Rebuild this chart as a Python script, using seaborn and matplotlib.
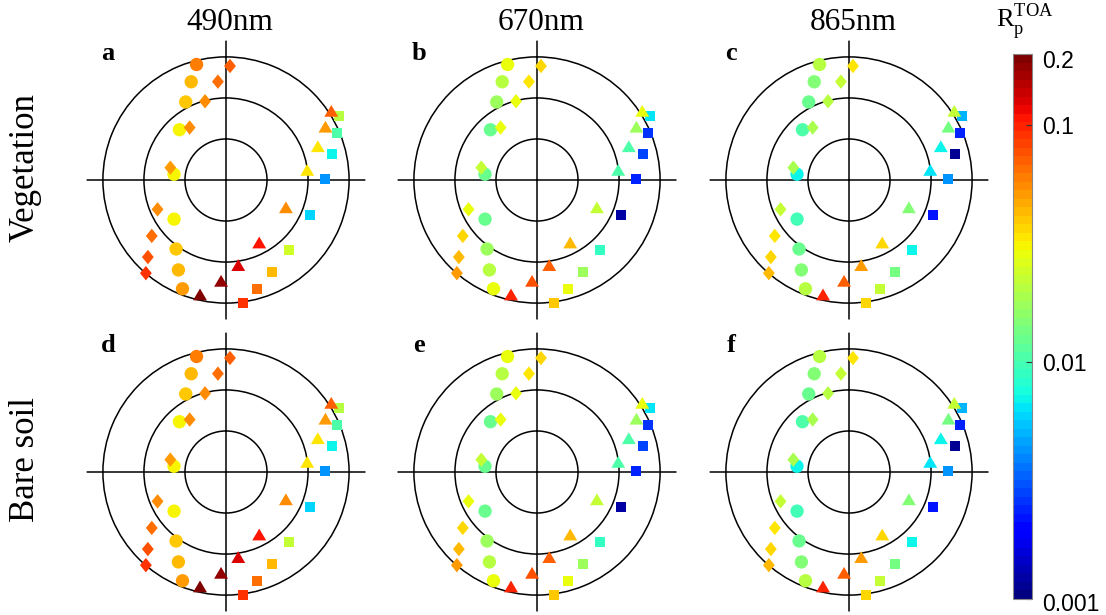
import numpy as np
import pandas as pd
import matplotlib
matplotlib.use("Agg")
import matplotlib.pyplot as plt
import matplotlib.transforms as mtransforms
from matplotlib.colors import LogNorm
from matplotlib.cm import ScalarMappable
from matplotlib.path import Path
import seaborn as sns

# ---- viewing geometry (view zenith angle in deg, relative azimuth in deg) ----
circ_vza = [58.1, 50.8, 42.8, 33.4, 25.5, 31.7, 41.5, 49.6, 57.1]
circ_vaa = [345.7, 340.5, 332.7, 317.2, 276.3, 233.0, 215.9, 207.9, 201.8]
diam_vza = [55.6, 48.1, 39.7, 31.1, 27.8, 36.3, 45.3, 53.5, 59.9]
diam_vaa = [2.0, 355.3, 345.1, 325.3, 282.5, 246.8, 233.0, 225.4, 220.7]
sq_vza = [63.5, 58.6, 53.4, 48.5, 44.4, 45.9, 50.0, 55.3, 60.4]
sq_vaa = [60.5, 67.2, 76.2, 89.4, 112.8, 137.9, 153.2, 164.2, 172.3]
tri_vza = [61.4, 55.0, 47.7, 39.9, 32.1, 34.5, 41.9, 49.2, 57.2]
tri_vaa = [56.7, 61.8, 69.8, 82.9, 114.5, 152.0, 171.8, 182.8, 192.8]

# ---- polarized TOA reflectance, vegetation ----
veg490_circ = [0.062, 0.045, 0.040, 0.030, 0.030, 0.030, 0.040, 0.045, 0.053]
veg490_diam = [0.072, 0.065, 0.055, 0.055, 0.053, 0.055, 0.065, 0.075, 0.090]
veg490_sq = [0.020, 0.0108, 0.007, 0.0041, 0.006, 0.025, 0.045, 0.065, 0.090]
veg490_tri = [0.072, 0.053, 0.035, 0.033, 0.055, 0.110, 0.130, 0.170, 0.185]

veg670_circ = [0.028, 0.020, 0.017, 0.013, 0.013, 0.013, 0.017, 0.020, 0.028]
veg670_diam = [0.038, 0.033, 0.028, 0.028, 0.023, 0.028, 0.038, 0.045, 0.053]
veg670_sq = [0.0064, 0.0027, 0.0029, 0.0023, 0.0012, 0.0093, 0.017, 0.028, 0.040]
veg670_tri = [0.028, 0.017, 0.0108, 0.0108, 0.023, 0.045, 0.069, 0.078, 0.100]

veg865_circ = [0.020, 0.0152, 0.013, 0.0103, 0.007, 0.0097, 0.013, 0.0152, 0.020]
veg865_diam = [0.033, 0.023, 0.020, 0.0185, 0.0185, 0.023, 0.033, 0.038, 0.045]
veg865_sq = [0.0052, 0.0023, 0.0011, 0.0044, 0.0022, 0.007, 0.014, 0.023, 0.036]
veg865_tri = [0.022, 0.014, 0.007, 0.0065, 0.0152, 0.036, 0.053, 0.072, 0.100]

# ---- polarized TOA reflectance, bare soil ----
soil490_circ = [0.062, 0.045, 0.040, 0.030, 0.030, 0.030, 0.040, 0.045, 0.053]
soil490_diam = [0.072, 0.065, 0.055, 0.055, 0.053, 0.055, 0.065, 0.075, 0.090]
soil490_sq = [0.020, 0.0108, 0.007, 0.0041, 0.006, 0.022, 0.045, 0.065, 0.090]
soil490_tri = [0.072, 0.053, 0.035, 0.033, 0.055, 0.110, 0.130, 0.170, 0.185]

soil670_circ = [0.028, 0.020, 0.017, 0.013, 0.013, 0.013, 0.017, 0.020, 0.028]
soil670_diam = [0.038, 0.033, 0.028, 0.028, 0.023, 0.028, 0.038, 0.045, 0.053]
soil670_sq = [0.0064, 0.0027, 0.0029, 0.0023, 0.0012, 0.0093, 0.017, 0.028, 0.040]
soil670_tri = [0.028, 0.017, 0.0108, 0.0108, 0.023, 0.045, 0.069, 0.078, 0.100]

soil865_circ = [0.020, 0.0152, 0.013, 0.0103, 0.007, 0.0097, 0.013, 0.0152, 0.020]
soil865_diam = [0.033, 0.023, 0.020, 0.0185, 0.0185, 0.023, 0.033, 0.038, 0.045]
soil865_sq = [0.0052, 0.0023, 0.0011, 0.0044, 0.0022, 0.007, 0.014, 0.023, 0.036]
soil865_tri = [0.022, 0.014, 0.007, 0.0065, 0.0152, 0.036, 0.053, 0.072, 0.100]

bands = ["490nm", "670nm", "865nm"]
surfaces = ["Vegetation", "Bare soil"]
panel_letters = ["a", "b", "c", "d", "e", "f"]
cbar_ticks = [0.001, 0.01, 0.1, 0.2]
cbar_ticklabels = ["0.001", "0.01", "0.1", "0.2"]
zenith_rings = [20, 40, 60]

panel_values = [
    [veg490_circ, veg490_sq, veg490_diam, veg490_tri],
    [veg670_circ, veg670_sq, veg670_diam, veg670_tri],
    [veg865_circ, veg865_sq, veg865_diam, veg865_tri],
    [soil490_circ, soil490_sq, soil490_diam, soil490_tri],
    [soil670_circ, soil670_sq, soil670_diam, soil670_tri],
    [soil865_circ, soil865_sq, soil865_diam, soil865_tri],
]
shape_names = ["circle", "square", "diamond", "triangle"]
shape_geom = {
    "circle": (circ_vza, circ_vaa),
    "square": (sq_vza, sq_vaa),
    "diamond": (diam_vza, diam_vaa),
    "triangle": (tri_vza, tri_vaa),
}

# ---- styling ----
W, H = 1106, 615
fig = plt.figure(figsize=(W / 100, H / 100), dpi=100)
serif = ["Liberation Serif", "DejaVu Serif"]
sans = ["Liberation Sans", "DejaVu Sans"]

cmap = matplotlib.colormaps["jet"].resampled(64)
norm = LogNorm(vmin=0.001, vmax=0.2)

diamond = Path([(0, 1), (0.82, 0), (0, -1), (-0.82, 0), (0, 1)],
               [Path.MOVETO, Path.LINETO, Path.LINETO, Path.LINETO, Path.CLOSEPOLY])
triangle = Path([(0, 0.85), (1, -0.85), (-1, -0.85), (0, 0.85)],
                [Path.MOVETO, Path.LINETO, Path.LINETO, Path.CLOSEPOLY])
marker_map = {"circle": "o", "square": "s", "diamond": diamond, "triangle": triangle}
size_map = {"circle": 92, "square": 52, "diamond": 108, "triangle": 100}

rmax = 68
centers_x = [226, 537, 849]
centers_y = [180, 472]
radius_px = 139.5

for idx, vals in enumerate(panel_values):
    row, col = divmod(idx, 3)
    cx, cy = centers_x[col], centers_y[row]
    rect = [(cx - radius_px) / W, (H - cy - radius_px) / H,
            2 * radius_px / W, 2 * radius_px / H]
    ax = fig.add_axes(rect, projection="polar")
    ax.set_theta_zero_location("N")
    ax.set_theta_direction(-1)
    ax.set_axisbelow(True)

    frames = []
    for name, v in zip(shape_names, vals):
        vza, vaa = shape_geom[name]
        frames.append(pd.DataFrame({
            "theta": np.radians(vaa), "vza": vza, "rp": v, "shape": name}))
    df = pd.concat(frames, ignore_index=True)

    sns.scatterplot(data=df, x="theta", y="vza", hue="rp", hue_norm=norm,
                    palette=cmap, style="shape", markers=marker_map,
                    size="shape", sizes=size_map, linewidth=0,
                    legend=False, ax=ax, zorder=3)

    ax.set_ylim(0, rmax)
    ax.set_yticks(zenith_rings)
    ax.set_yticklabels([])
    ax.set_xticks(np.radians([0, 90, 180, 270]))
    ax.set_xticklabels([])
    ax.tick_params(length=0)
    ax.grid(True, color="black", lw=1.1, ls="-")
    ax.spines["polar"].set_visible(False)
    ax.set_xlabel("")
    ax.set_ylabel("")
    ax.patch.set_alpha(0)

    fig.text((cx - 118) / W, 1 - (cy - 126) / H, panel_letters[idx],
             family=serif, fontsize=19, fontweight="bold",
             ha="center", va="center")

for col, band in enumerate(bands):
    fig.text((centers_x[col] + 4) / W, 1 - 22 / H, band, family=serif,
             fontsize=22.5, ha="center", va="center")

for row, surf in enumerate(surfaces):
    fig.text(25 / W, 1 - (centers_y[row] - 12) / H, surf, family=serif,
             fontsize=25, rotation=90, ha="center", va="center")

# ---- colour bar ----
cax = fig.add_axes([1013 / W, (H - 599) / H, 19 / W, 545 / H])
cb = fig.colorbar(ScalarMappable(norm=norm, cmap=cmap), cax=cax)
cb.set_ticks(cbar_ticks)
cb.set_ticklabels(cbar_ticklabels)
cax.yaxis.set_minor_locator(matplotlib.ticker.NullLocator())
cax.tick_params(direction="in", length=4, width=0.8, colors="#333333",
                pad=7, labelsize=16.5)
label_shift = {"0.2": -5, "0.001": -3}
for lab in cax.get_yticklabels():
    lab.set_family(sans)
    lab.set_color("black")
    dy = label_shift.get(lab.get_text(), 0)
    if dy:
        lab.set_transform(lab.get_transform() + mtransforms.ScaledTranslation(
            0, dy / 100, fig.dpi_scale_trans))
cb.outline.set_edgecolor("#888888")
cb.outline.set_linewidth(0.8)

fig.text(1025 / W, 1 - 22 / H, r"R$_\mathregular{p}^\mathregular{TOA}$",
         family=serif, fontsize=19, ha="center", va="center")

fig.savefig("out.png", dpi=100)
